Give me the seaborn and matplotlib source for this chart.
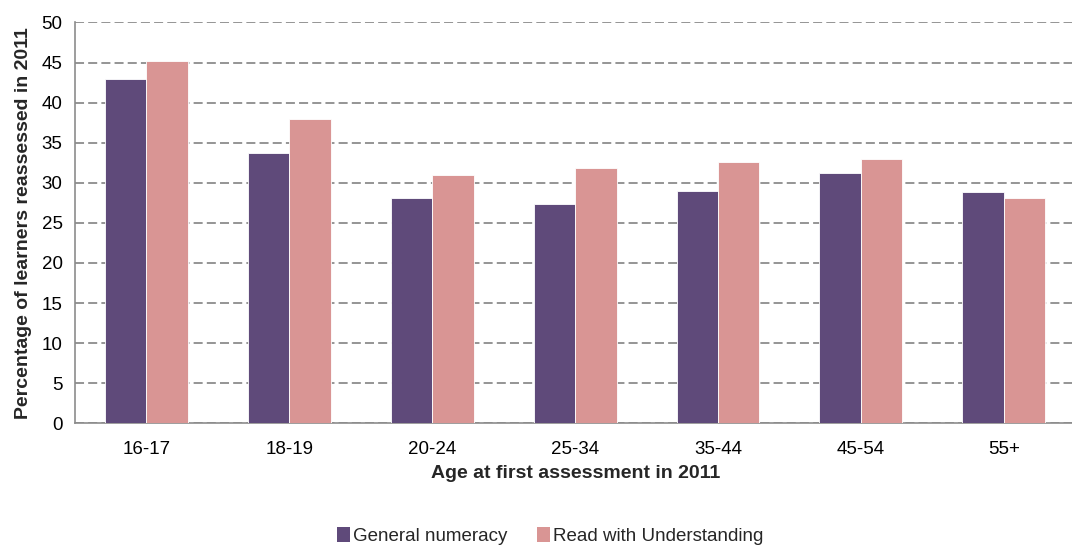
import matplotlib
matplotlib.use("Agg")
import matplotlib.pyplot as plt
import seaborn as sns
import pandas as pd
import numpy as np
from matplotlib.patches import Patch

# Reassessment rates by age band
age_groups = ["16-17", "18-19", "20-24", "25-34", "35-44", "45-54", "55+"]
general_numeracy = [43.0, 33.7, 28.05, 27.4, 28.95, 31.2, 28.8]
read_with_understanding = [45.2, 38.0, 31.0, 31.9, 32.6, 33.0, 28.1]
series_names = ["General numeracy", "Read with Understanding"]
y_ticks = [0, 5, 10, 15, 20, 25, 30, 35, 40, 45, 50]

df = pd.DataFrame({
    "age": age_groups * 2,
    "value": general_numeracy + read_with_understanding,
    "series": [series_names[0]] * len(age_groups) + [series_names[1]] * len(age_groups),
})

colors = ["#5F4A7A", "#D99594"]

sns.set_theme(style="white")
plt.rcParams["font.family"] = ["Liberation Sans", "DejaVu Sans"]

fig = plt.figure(figsize=(10.72, 5.47), dpi=100)
ax = fig.add_axes([0.070, 0.226, 0.933, 0.733])

sns.barplot(data=df, x="age", y="value", hue="series", palette=colors,
            width=0.58, saturation=1, ax=ax, legend=False,
            edgecolor="white", linewidth=0.6, zorder=3)

ax.set_ylim(0, 50)
ax.set_xlim(-0.5, len(age_groups) - 0.5)
ax.set_yticks(y_ticks)
ax.set_yticklabels([str(t) for t in y_ticks], fontsize=13.5)
ax.yaxis.grid(True, linestyle=(0, (5, 2.3)), color="#8C8C8C", linewidth=1.3, zorder=0)
ax.xaxis.grid(False)

# Tick marks between categories, labels centred under each group
ax.set_xticks(np.arange(len(age_groups)))
ax.set_xticklabels(age_groups, fontsize=13.5)
ax.set_xticks(np.arange(-0.5, len(age_groups), 1.0), minor=True)
ax.tick_params(axis="x", which="major", length=0, pad=13)
ax.tick_params(axis="x", which="minor", length=5, color="#8C8C8C", width=1, direction="out")
ax.tick_params(axis="y", length=5, color="#8C8C8C", width=1, direction="out", pad=4)
ax.tick_params(axis="both", labelcolor="black")

for side in ["top", "right"]:
    ax.spines[side].set_visible(False)
for side in ["left", "bottom"]:
    ax.spines[side].set_color("#8C8C8C")
    ax.spines[side].set_linewidth(1.2)

ax.set_xlabel("Age at first assessment in 2011", fontsize=14, fontweight="bold", labelpad=5)
ax.set_ylabel("Percentage of learners reassessed in 2011", fontsize=14, fontweight="bold", labelpad=7)

handles = [Patch(facecolor=c, edgecolor="none") for c in colors]
fig.legend(handles, series_names, loc="lower center", bbox_to_anchor=(0.513, -0.027),
           ncol=2, frameon=False, fontsize=13.5, handlelength=0.7, handleheight=0.85,
           handletextpad=0.15, columnspacing=1.6)

fig.savefig("out.png", dpi=100)
